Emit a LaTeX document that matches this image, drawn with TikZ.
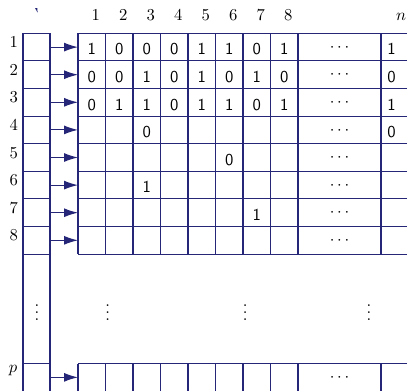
\documentclass[tikz,border=0pt]{standalone}
\usetikzlibrary{arrows.meta}

\begin{document}
\begin{tikzpicture}[x=0.6pt, y=-0.6pt,
    grid/.style={gridnavy, line width=0.7pt},
    ptr/.style={gridnavy, line width=0.7pt, -{Latex[length=8.4pt, width=5.4pt]}},
    lbl/.style={font=\normalsize, anchor=base, inner sep=0pt},
    entry/.style={font=\sffamily, anchor=base, inner sep=0pt}]
  % colors close to the figure
  \definecolor{gridnavy}{RGB}{38,38,120}

  % parameters (in pixels of the figure)
  \def\lx{23}     % left edge of the pointer column
  \def\rx{50}     % right edge of the pointer column
  \def\mx{78}     % left edge of the matrix
  \def\cw{27.5}   % column width
  \def\rh{27.6}   % row height
  \def\ty{33.3}   % top of the first row
  \def\gy{254.1}  % bottom of row 8
  \def\py{363.7}  % top of row p
  \def\dx{298}    % left edge of the dots column
  \def\nx{381}    % left edge of column n
  \def\W{407}     % right edge
  \def\H{391}     % bottom edge

  \useasboundingbox (0,0) rectangle (\W,\H);

  % small mark at the top
  \fill[gridnavy] (35,8) -- (37.3,8) -- (37.6,12.6) -- cycle;

  % pointer column
  \draw[grid] (\lx,\ty) -- (\lx,\H);
  \draw[grid] (\rx,\ty) -- (\rx,\H);
  \foreach \i in {0,...,8}
    \draw[grid] (\lx,\ty+\i*\rh) -- (\rx,\ty+\i*\rh);
  \draw[grid] (\lx,\py) -- (\rx,\py);

  % matrix, rows 1 to 8
  \foreach \i in {0,...,8}
    \draw[grid] (\mx,\ty+\i*\rh) -- (\W,\ty+\i*\rh);
  \foreach \j in {0,...,8}
    \draw[grid] (\mx+\j*\cw,\ty) -- (\mx+\j*\cw,\gy);
  \draw[grid] (\nx,\ty) -- (\nx,\gy);

  % matrix, row p
  \draw[grid] (\mx,\py) -- (\W,\py);
  \foreach \j in {0,...,8}
    \draw[grid] (\mx+\j*\cw,\py) -- (\mx+\j*\cw,\H);
  \draw[grid] (\nx,\py) -- (\nx,\H);

  % pointers
  \foreach \i in {1,...,8} {
    \coordinate (src-\i) at (\rx,\ty+\i*\rh-\rh/2);
    \coordinate (dst-\i) at (\mx,\ty+\i*\rh-\rh/2);
    \draw[ptr] (src-\i) -- (dst-\i);
  }
  \coordinate (src-p) at (\rx,\py+13.65);
  \coordinate (dst-p) at (\mx,\py+13.65);
  \draw[ptr] (src-p) -- (dst-p);

  % column labels
  \foreach \j in {1,...,8}
    \node[lbl] (col-\j) at (\mx+\j*\cw-\cw/2+4,20) {\j};
  \node[lbl] (col-n) at (401,20) {$n$};

  % row labels
  \foreach \i in {1,...,8}
    \node[lbl] (row-\i) at (13.9,\ty+\i*\rh-\rh+14.4) {\i};
  \node[lbl] (row-p) at (13,372) {$p$};

  % entries
  \foreach \v [count=\j] in {1,0,0,0,1,1,0,1}
    \node[entry] (e-1-\j) at (\mx+\j*\cw-\cw/2,\ty+21.5) {\v};
  \foreach \v [count=\j] in {0,0,1,0,1,0,1,0}
    \node[entry] (e-2-\j) at (\mx+\j*\cw-\cw/2,\ty+\rh+21.5) {\v};
  \foreach \v [count=\j] in {0,1,1,0,1,1,0,1}
    \node[entry] (e-3-\j) at (\mx+\j*\cw-\cw/2,\ty+2*\rh+21.5) {\v};
  \node[entry] (e-4-3) at (\mx+2.5*\cw,\ty+3*\rh+21.5) {0};
  \node[entry] (e-5-6) at (\mx+5.5*\cw,\ty+4*\rh+21.5) {0};
  \node[entry] (e-6-3) at (\mx+2.5*\cw,\ty+5*\rh+21.5) {1};
  \node[entry] (e-7-7) at (\mx+6.5*\cw,\ty+6*\rh+21.5) {1};
  \foreach \v [count=\i] in {1,0,1,0}
    \node[entry] (e-\i-n) at (391.5,\ty+\i*\rh-\rh+21.5) {\v};

  % dots
  \foreach \i in {1,...,8}
    \node[lbl] (h-\i) at (339.5,\ty+\i*\rh-\rh+18) {$\cdots$};
  \node[lbl] (h-p) at (339.5,\py+18) {$\cdots$};
  \foreach \x [count=\k] in {37,107.7,245.3,369}
    \node[lbl] (v-\k) at (\x,320) {$\vdots$};
\end{tikzpicture}
\end{document}
